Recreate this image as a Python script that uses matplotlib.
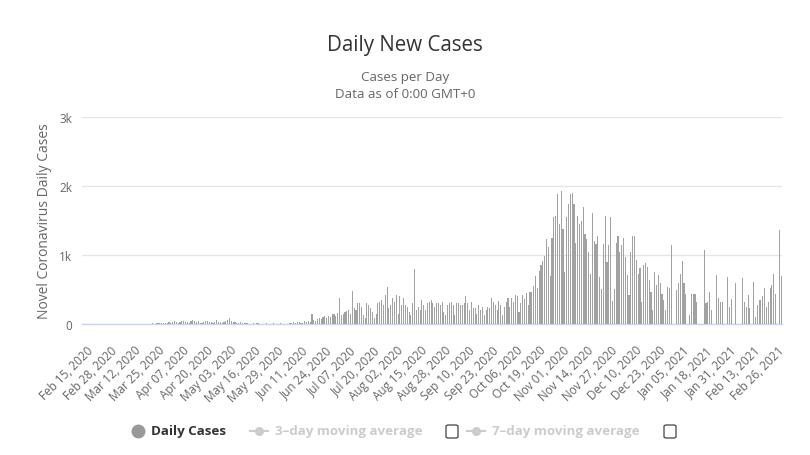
import matplotlib
matplotlib.use("Agg")
import matplotlib.pyplot as plt
import matplotlib.transforms as mtransforms
import numpy as np
import pandas as pd
from matplotlib.lines import Line2D
from matplotlib.patches import FancyBboxPatch

# daily new cases (Feb 15, 2020 .. Mar 02, 2021)
feb_2020 = [0, 0, 0, 0, 0, 0, 0, 0, 0, 0, 0, 0, 0, 0, 0]
mar_2020 = [0, 0, 0, 0, 0, 0, 0, 0, 0, 0, 0, 0, 0, 0, 0, 0, 0, 0, 0, 2,
            0, 3, 5, 8, 6, 10, 12, 9, 15, 18, 12]
apr_2020 = [20, 35, 15, 30, 40, 25, 10, 30, 45, 50, 35, 25, 15, 40, 55,
            45, 30, 40, 20, 15, 35, 45, 40, 30, 25, 20, 30, 60, 35, 30]
may_2020 = [20, 25, 40, 55, 80, 45, 35, 30, 20, 15, 25, 20, 8, 10, 12,
            0, 5, 15, 0, 8, 10, 0, 4, 5, 8, 0, 6, 0, 10, 5, 0]
jun_2020 = [5, 10, 0, 3, 5, 0, 8, 20, 25, 15, 30, 35, 20, 10, 40,
            35, 45, 30, 140, 60, 50, 70, 85, 75, 95, 110, 90, 120, 100, 150]
jul_2020 = [150, 120, 160, 380, 130, 140, 170, 190, 210, 150, 480, 230, 200, 310, 310,
            250, 130, 80, 300, 275, 230, 180, 90, 150, 310, 320, 350, 275, 420, 530, 230]
aug_2020 = [275, 370, 320, 420, 150, 400, 275, 370, 275, 250, 180, 130, 300, 800, 200,
            250, 200, 350, 275, 200, 300, 320, 350, 300, 250, 300, 300, 275, 320, 180, 130]
sep_2020 = [275, 300, 320, 275, 130, 300, 300, 275, 275, 300, 400, 300, 200, 320, 230,
            230, 150, 275, 200, 250, 130, 200, 250, 230, 370, 320, 275, 200, 330, 275]
oct_2020 = [130, 250, 320, 370, 250, 370, 320, 420, 400, 180, 300, 420, 360, 450, 280,
            470, 460, 555, 700, 520, 770, 850, 920, 990, 1230, 1110, 700, 1250, 1550, 1570, 1880]
nov_2020 = [1450, 1930, 1380, 750, 1550, 1740, 1880, 1900, 1740, 1180, 1570, 1450, 1500, 1700, 1300,
            1230, 1050, 725, 1610, 1210, 1160, 1280, 680, 510, 1160, 1570, 900, 1140, 1550, 340]
dec_2020 = [510, 1170, 1280, 1050, 1140, 1240, 975, 710, 420, 1050, 1280, 1270, 930, 730, 810,
            320, 860, 880, 830, 640, 470, 200, 760, 570, 710, 590, 440, 350, 200, 540, 520]
jan_2021 = [1140, 0, 0, 490, 600, 730, 910, 590, 440, 0, 130, 440, 440, 440, 320,
            0, 0, 0, 1070, 300, 320, 470, 200, 0, 0, 710, 370, 320, 320, 0, 0]
feb_2021 = [680, 250, 360, 0, 600, 0, 0, 0, 660, 320, 250, 420, 230, 0, 610,
            100, 270, 350, 350, 400, 520, 250, 320, 520, 560, 730, 440, 0]
mar_2021 = [1360, 700]

daily_cases = (feb_2020 + mar_2020 + apr_2020 + may_2020 + jun_2020 + jul_2020 + aug_2020
               + sep_2020 + oct_2020 + nov_2020 + dec_2020 + jan_2021 + feb_2021 + mar_2021)
dates = pd.date_range("2020-02-15", periods=len(daily_cases), freq="D")

y_ticks = [0, 1000, 2000, 3000]
y_tick_labels = ["0", "1k", "2k", "3k"]
legend_labels = ["Daily Cases", "3–day moving average", "7–day moving average"]

FONT = ["Open Sans", "DejaVu Sans"]
plt.rcParams["font.family"] = FONT

W, H = 810, 456
fig = plt.figure(figsize=(W / 100, H / 100), dpi=100)
ax = fig.add_axes([82 / W, 1 - 325 / H, 700 / W, 207 / H])

x = np.arange(len(daily_cases))
ax.bar(x, daily_cases, width=0.6, color="#a2a2a2", linewidth=0, zorder=3)

ax.set_xlim(-0.5, len(daily_cases) - 0.5)
ax.set_ylim(0, 3000)
ax.set_yticks(y_ticks)
ax.set_yticklabels(y_tick_labels)
ax.yaxis.grid(True, color="#e6e6e6", linewidth=1, zorder=0)
ax.tick_params(axis="y", length=0, pad=7, labelsize=8.5, labelcolor="#666666")

tick_idx = x[::13]
ax.set_xticks(tick_idx)
ax.set_xticklabels([dates[i].strftime("%b %d, %Y") for i in tick_idx],
                   rotation=45, ha="right", rotation_mode="anchor")
ax.tick_params(axis="x", length=0, pad=8, labelsize=8.5, labelcolor="#666666")
shift = mtransforms.ScaledTranslation(4 / 100, -8 / 100, fig.dpi_scale_trans)
for lbl in ax.get_xticklabels():
    lbl.set_transform(lbl.get_transform() + shift)

for side in ["top", "right", "left"]:
    ax.spines[side].set_visible(False)
ax.spines["bottom"].set_color("#ccd6eb")
ax.spines["bottom"].set_linewidth(1)

fig.text(405 / W, 1 - 45 / H, "Daily New Cases", ha="center", va="center",
         fontsize=14.8, color="#333333")
fig.text(405 / W, 1 - 78 / H, "Cases per Day", ha="center", va="center",
         fontsize=9.6, color="#666666")
fig.text(405 / W, 1 - 95 / H, "Data as of 0:00 GMT+0", ha="center", va="center",
         fontsize=9.6, color="#666666")
fig.text(45 / W, 1 - 221 / H, "Novel Coronavirus Daily Cases", ha="center", va="center",
         rotation=90, fontsize=10, color="#666666")

# legend (Highcharts style, two disabled series with checkboxes)
ly = 1 - 432 / H
fig.lines.append(Line2D([138 / W], [ly], transform=fig.transFigure, color="#999999",
                        marker="o", markersize=9, linestyle="none"))
fig.text(151 / W, ly, legend_labels[0], ha="left", va="center", fontsize=9.6,
         fontweight="bold", color="#333333")
for mx, tx, cx, lab in [(259, 275, 452, legend_labels[1]), (476, 492, 670, legend_labels[2])]:
    fig.lines.append(Line2D([(mx - 9) / W, (mx + 9) / W], [ly, ly], transform=fig.transFigure,
                            color="#cccccc", linewidth=1.5))
    fig.lines.append(Line2D([mx / W], [ly], transform=fig.transFigure, color="#cccccc",
                            marker="o", markersize=5.5, linestyle="none"))
    fig.text(tx / W, ly, lab, ha="left", va="center", fontsize=9.6, fontweight="bold",
             color="#cccccc")
    fig.patches.append(FancyBboxPatch(((cx - 6) / W, ly - 7 / H), 12 / W, 13 / H,
                                      boxstyle="round,pad=0,rounding_size=0.003",
                                      transform=fig.transFigure, facecolor="white",
                                      edgecolor="#444444", linewidth=0.9))

fig.savefig("out.png", dpi=100, facecolor="white")
